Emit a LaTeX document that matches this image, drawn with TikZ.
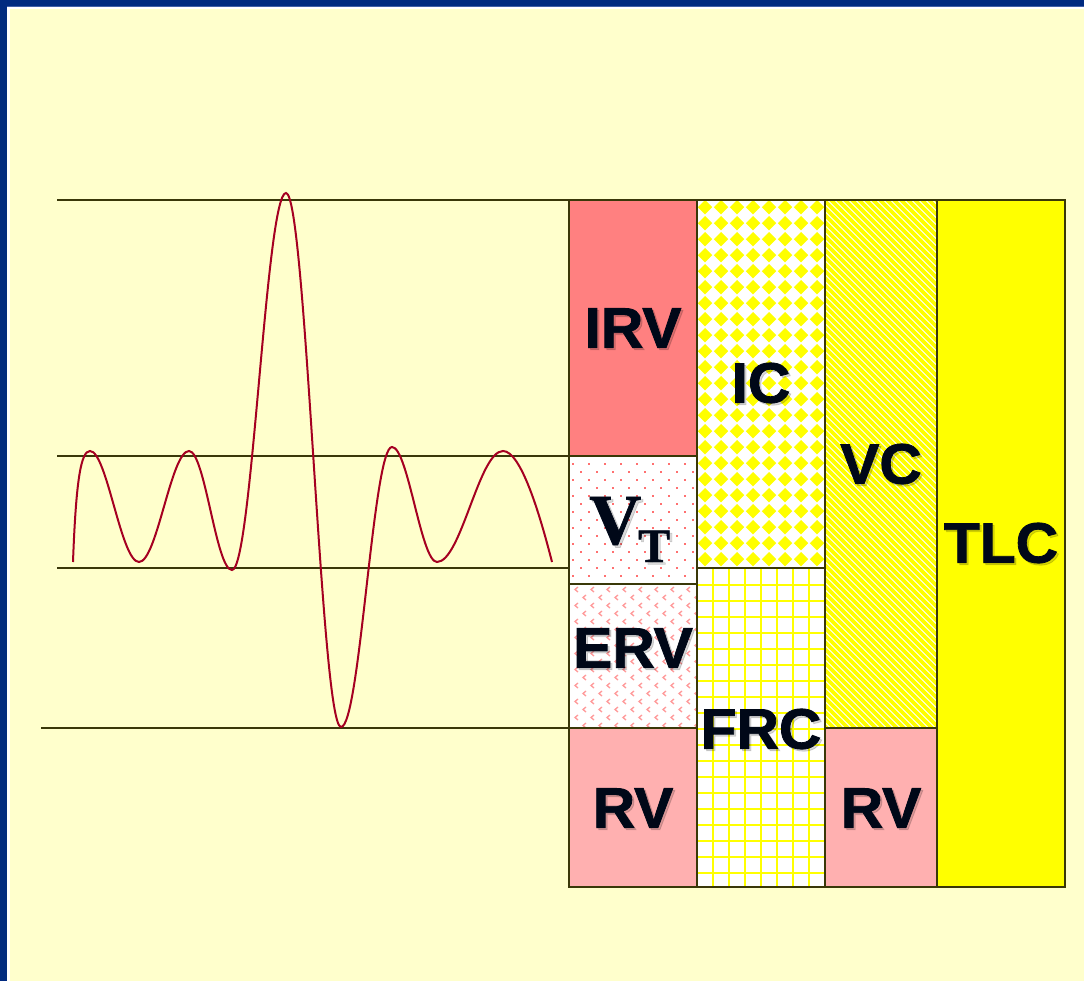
\documentclass[tikz,border=0pt]{standalone}
\usepackage{fontspec}
\setmainfont{Liberation Sans}
\newfontfamily\lblfont{Liberation Sans}[BoldFeatures={FakeBold=1.4,FakeStretch=1.03}]
\newfontfamily\serifbold{Liberation Serif}[BoldFeatures={FakeBold=1.0}]
\definecolor{bg}{HTML}{FFFFCC}
\definecolor{frameblue}{HTML}{002A80}
\definecolor{frameline}{HTML}{4060A8}
\definecolor{rule}{HTML}{3A3808}
\definecolor{wave}{HTML}{A50021}
\definecolor{irvc}{HTML}{FF8080}
\definecolor{dotpink}{HTML}{FF7070}
\definecolor{chevpink}{HTML}{FF9A9A}
\definecolor{rvpink}{HTML}{FFB0B0}
\definecolor{yel}{HTML}{FFFF00}
\definecolor{ink}{HTML}{000818}
\tikzset{
  hline/.style={draw=rule, line width=2pt},
  cell/.style={draw=rule, line width=2pt},
  lbl/.style={font=\lblfont\fontsize{57}{60}\selectfont\bfseries, text=ink, inner sep=0pt, anchor=center},
  shd/.style={font=\lblfont\fontsize{57}{60}\selectfont\bfseries, text=black, opacity=0.15, inner sep=0pt, anchor=center},
  wavecurve/.style={draw=wave, line width=2pt}
}
\begin{document}
\begin{tikzpicture}[x=1pt,y=-1pt]
\useasboundingbox (0,0) rectangle (1084,981);
% background and frame
\fill[bg] (0,0) rectangle (1084,981);
\fill[frameblue] (0,0) rectangle (1084,6);
\fill[frameblue] (0,0) rectangle (7,981);
\fill[frameline] (7,6) rectangle (1084,7);
\fill[white] (7,7) rectangle (1084,9);
\fill[white] (7,7) rectangle (10,981);

% ---- column 1 ----
% IRV
\fill[irvc] (569,200) rectangle (697,456);
% VT
\fill[white] (569,456) rectangle (697,584);
\begin{scope}
\clip (569,456) rectangle (697,584);
\foreach \j in {0,...,16}{
  \foreach \i in {0,...,8}{
    \fill[dotpink] ({572+16*\i+8*mod(\j,2)},{463+8*\j}) rectangle ++(2,2);
  }
}
\end{scope}
% ERV
\fill[white] (569,584) rectangle (697,728);
\begin{scope}
\clip (569,584) rectangle (697,728);
\foreach \j in {0,...,18}{
  \foreach \i in {0,...,8}{
    \draw[chevpink, line width=1.3pt] ({578+16*\i+8*mod(\j,2)},{587+8*\j}) -- ++(-3,2.5) -- ++(3,2.5);
  }
}
\end{scope}
% RV 1
\fill[rvpink] (569,728) rectangle (697,887);

% ---- column 2 ----
% IC
\fill[white] (697,200) rectangle (825,568);
\begin{scope}
\clip (697,200) rectangle (825,568);
\foreach \j in {0,...,23}{
  \foreach \i in {0,...,8}{
    \fill[yel] ({705+16*\i},{200+16*\j}) -- ++(7.2,7.2) -- ++(-7.2,7.2) -- ++(-7.2,-7.2) -- cycle;
  }
}
\end{scope}
% FRC
\fill[white] (697,568) rectangle (825,887);
\begin{scope}
\clip (697,568) rectangle (825,887);
\foreach \i in {1,...,8}{
  \draw[yel, line width=1.7pt] ({697+16*\i},568) -- ({697+16*\i},887);
}
\foreach \j in {1,...,20}{
  \draw[yel, line width=1.7pt] (697,{569+16*\j}) -- (825,{569+16*\j});
}
\end{scope}

% ---- column 3 ----
% VC
\fill[white] (825,200) rectangle (937,728);
\begin{scope}
\clip (825,200) rectangle (937,728);
\foreach \k in {0,...,100}{
  \draw[yel, line width=3.8pt] ({825-540+7*\k},200) -- ++(560,560);
}
\end{scope}
% RV 2
\fill[rvpink] (825,728) rectangle (937,887);

% ---- column 4 ----
\fill[yel] (937,200) rectangle (1065,887);

% cell borders
\draw[cell] (569,200) rectangle (697,456);
\draw[cell] (569,456) rectangle (697,584);
\draw[cell] (569,584) rectangle (697,728);
\draw[cell] (569,728) rectangle (697,887);
\draw[cell] (697,200) rectangle (825,568);
\draw[cell] (697,568) rectangle (825,887);
\draw[cell] (825,200) rectangle (937,728);
\draw[cell] (825,728) rectangle (937,887);
\draw[cell] (937,200) rectangle (1065,887);

% reference lines
\coordinate (l1a) at (57,200);  \coordinate (l1b) at (569,200);
\coordinate (l2a) at (57,456);  \coordinate (l2b) at (569,456);
\coordinate (l3a) at (57,568);  \coordinate (l3b) at (569,568);
\coordinate (l4a) at (41,728);  \coordinate (l4b) at (569,728);
\draw[hline] (l1a) -- (l1b);
\draw[hline] (l2a) -- (l2b);
\draw[hline] (l3a) -- (l3b);
\draw[hline] (l4a) -- (l4b);

% breathing curve
\coordinate (w0) at (73,562);
\coordinate (wend) at (552,562);
\draw[wavecurve] (w0)
  .. controls (76,480) and (81,451) .. (90,451)
  .. controls (107,451) and (121,562) .. (139,562)
  .. controls (157,562) and (171,451) .. (189,451)
  .. controls (205,451) and (216,570) .. (232,570)
  .. controls (252,570) and (266,193) .. (286,193)
  .. controls (306,193) and (321,727) .. (341,727)
  .. controls (360,727) and (373,447) .. (392,447)
  .. controls (408,447) and (421,562) .. (437,562)
  .. controls (461,562) and (479,451) .. (503,451)
  .. controls (521,451) and (540,515) .. (wend);

% labels (shadow then text)
\node[shd] (irv-s) at (635,330) {IRV};
\node[lbl] (irv)   at (633,328) {IRV};
\node[shd] (ic-s)  at (763,385) {IC};
\node[lbl] (ic)    at (761,383) {IC};
\node[shd] (vc-s)  at (883,466) {VC};
\node[lbl] (vc)    at (881,464) {VC};
\node[shd] (tlc-s) at (1003,545) {TLC};
\node[lbl] (tlc)   at (1001,543) {TLC};
\node[shd] (erv-s) at (635,650) {ERV};
\node[lbl] (erv)   at (633,648) {ERV};
\node[shd] (frc-s) at (763,731) {FRC};
\node[lbl] (frc)   at (761,729) {FRC};
\node[shd] (rv1-s) at (635,810) {RV};
\node[lbl] (rv1)   at (633,808) {RV};
\node[shd] (rv2-s) at (883,810) {RV};
\node[lbl] (rv2)   at (881,808) {RV};
% V_T
\node[text=black, opacity=0.15, inner sep=0pt, anchor=base west] (vt-s) at (591.5,546.5)
  {\serifbold\bfseries\fontsize{72}{72}\selectfont V\kern-3pt\raisebox{-18pt}{\fontsize{48}{48}\selectfont T}};
\node[text=ink, inner sep=0pt, anchor=base west] (vt) at (589,544)
  {\serifbold\bfseries\fontsize{72}{72}\selectfont V\kern-3pt\raisebox{-18pt}{\fontsize{48}{48}\selectfont T}};
\end{tikzpicture}
\end{document}
